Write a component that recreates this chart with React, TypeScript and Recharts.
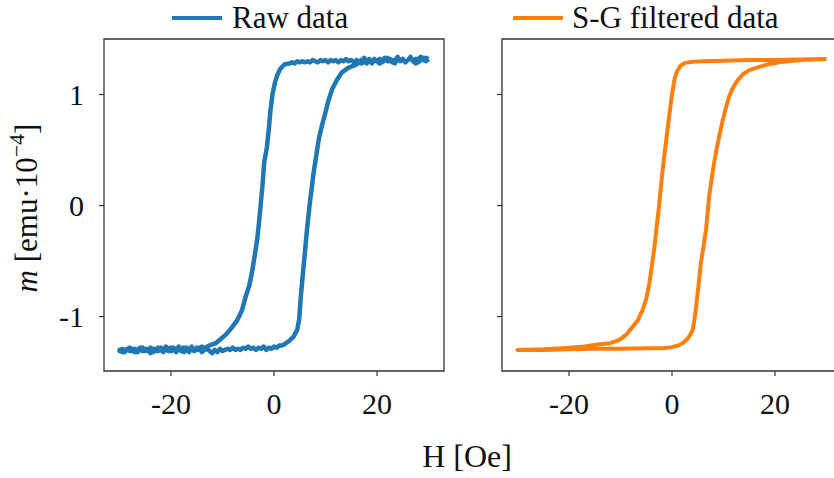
import React from 'react';
import { LineChart, Line, XAxis, YAxis, ReferenceArea } from 'recharts';

const FONT = '"Liberation Serif", "DejaVu Serif", serif';
const AXIS = '#333';

// --- DATA ---
// raw measurement, descending branch (+30 -> -30 Oe)
const RAW_DOWN_H = [
  30, 29.5, 29, 28.5, 28, 27.5, 27, 26.5, 26, 25.5, 25, 24.5, 24, 23.5, 23, 22.5, 22, 21.5, 21, 20.5,
  20, 19.5, 19, 18.5, 18, 17.5, 17, 16.5, 16, 15.5, 15, 14.5, 14, 13.5, 13, 12.5, 12, 11.5, 11, 10.5,
  10, 9.5, 9, 8.5, 8, 7.5, 7, 6.5, 6, 5.5, 5, 4.5, 4, 3.5, 3,
  2, 1.2, 0.6, 0.2, -0.3, -0.7, -1.0, -1.4, -1.9, -2.2, -2.6, -2.9, -3.2, -3.7, -4.2, -4.8, -5.5, -6.2,
  -7.1, -8.2, -9.3, -10.3, -11.3, -12.5,
  -13, -13.5, -14, -14.5, -15, -15.5, -16, -16.5, -17, -17.5, -18, -18.5, -19, -19.5, -20, -20.5, -21,
  -21.5, -22, -22.5, -23, -23.5, -24, -24.5, -25, -25.5, -26, -26.5, -27, -27.5, -28, -28.5, -29, -29.5, -30,
];
const RAW_DOWN_M = [
  1.32, 1.30, 1.33, 1.31, 1.29, 1.32, 1.30, 1.34, 1.31, 1.29, 1.32, 1.30, 1.33, 1.28, 1.31, 1.30, 1.33, 1.31, 1.29, 1.32,
  1.30, 1.31, 1.28, 1.32, 1.30, 1.33, 1.31, 1.30, 1.31, 1.29, 1.31, 1.30, 1.32, 1.30, 1.31, 1.29, 1.31, 1.30, 1.31, 1.29,
  1.31, 1.30, 1.31, 1.29, 1.30, 1.31, 1.29, 1.30, 1.29, 1.30, 1.29, 1.30, 1.28, 1.29, 1.28,
  1.27, 1.23, 1.17, 1.11, 1.00, 0.85, 0.69, 0.52, 0.39, 0.20, 0.00, -0.15, -0.28, -0.44, -0.58, -0.72, -0.82, -0.94,
  -1.03, -1.10, -1.16, -1.20, -1.24, -1.26,
  -1.27, -1.29, -1.27, -1.30, -1.28, -1.31, -1.27, -1.30, -1.28, -1.32, -1.29, -1.27, -1.30, -1.28, -1.31, -1.29, -1.27,
  -1.30, -1.28, -1.31, -1.29, -1.32, -1.28, -1.30, -1.29, -1.31, -1.28, -1.30, -1.32, -1.29, -1.31, -1.29, -1.30, -1.32, -1.30,
];
// raw measurement, ascending branch (-30 -> +30 Oe)
const RAW_UP_H = [
  -30, -29.5, -29, -28.5, -28, -27.5, -27, -26.5, -26, -25.5, -25, -24.5, -24, -23.5, -23, -22.5, -22, -21.5, -21, -20.5,
  -20, -19.5, -19, -18.5, -18, -17.5, -17, -16.5, -16, -15.5, -15, -14.5, -14, -13.5, -13, -12.5, -12, -11.5, -11, -10.5,
  -10, -9.5, -9, -8.5, -8, -7.5, -7, -6.5, -6, -5.5, -5, -4.5, -4, -3.5, -3, -2.5, -2, -1.5, -1, -0.5,
  0, 0.5, 1, 1.5, 2, 2.9, 3.8, 4.5, 4.9, 5.2, 5.5, 5.8, 6.1, 6.4, 6.9, 7.3, 7.7, 8.2, 8.7, 9.3, 10.0,
  10.6, 11.3, 12.2, 13.2, 14.4, 15.5,
  16, 16.5, 17, 17.5, 18, 18.5, 19, 19.5, 20, 20.5, 21, 21.5, 22, 22.5, 23, 23.5, 24, 24.5, 25, 25.5,
  26, 26.5, 27, 27.5, 28, 28.5, 29, 29.5, 30,
];
const RAW_UP_M = [
  -1.31, -1.29, -1.32, -1.30, -1.28, -1.31, -1.29, -1.32, -1.30, -1.28, -1.31, -1.30, -1.33, -1.29, -1.31, -1.28, -1.30, -1.32, -1.29, -1.31,
  -1.28, -1.30, -1.32, -1.29, -1.31, -1.28, -1.30, -1.32, -1.29, -1.31, -1.30, -1.28, -1.32, -1.30, -1.29, -1.31, -1.33, -1.30, -1.32, -1.29,
  -1.31, -1.30, -1.29, -1.30, -1.28, -1.30, -1.29, -1.30, -1.28, -1.29, -1.27, -1.29, -1.28, -1.30, -1.28, -1.29, -1.27, -1.30, -1.28, -1.29,
  -1.27, -1.28, -1.26, -1.26, -1.25, -1.22, -1.18, -1.12, -1.02, -0.82, -0.67, -0.52, -0.37, -0.22, 0.00, 0.15, 0.30, 0.45, 0.60, 0.72, 0.84,
  0.95, 1.05, 1.13, 1.20, 1.24, 1.26,
  1.27, 1.29, 1.28, 1.30, 1.28, 1.31, 1.29, 1.32, 1.30, 1.28, 1.31, 1.33, 1.30, 1.32, 1.29, 1.31, 1.34, 1.30, 1.32, 1.29,
  1.31, 1.33, 1.30, 1.28, 1.32, 1.34, 1.31, 1.33, 1.32,
];

// Savitzky-Golay filtered, descending branch
const SG_DOWN_H = [30, 25, 20, 15, 10, 6, 4, 2.5, 1.7, 1.0, 0.5, 0.2, -0.1, -0.5, -0.85, -1.3, -1.8, -2.5, -3.0, -3.4, -3.9, -4.4, -5.0, -5.7, -6.6, -7.6, -8.8, -10.2, -12, -14.1, -17, -21.2, -25, -30];
const SG_DOWN_M = [1.32, 1.315, 1.31, 1.31, 1.305, 1.30, 1.295, 1.285, 1.26, 1.21, 1.14, 1.06, 0.97, 0.82, 0.69, 0.52, 0.33, 0.00, -0.20, -0.37, -0.54, -0.70, -0.84, -0.94, -1.03, -1.09, -1.16, -1.21, -1.24, -1.25, -1.27, -1.285, -1.295, -1.30];
// Savitzky-Golay filtered, ascending branch
const SG_UP_H = [-30, -25, -20, -15, -10, -5, -1.8, 0, 1.2, 2.05, 3.0, 3.6, 4.0, 4.3, 4.6, 5.1, 5.6, 6.1, 6.6, 7.2, 7.7, 8.2, 8.7, 9.2, 9.8, 10.4, 11.0, 11.7, 12.6, 13.7, 15, 16.3, 18.5, 20.8, 25, 30];
const SG_UP_M = [-1.30, -1.30, -1.295, -1.29, -1.29, -1.285, -1.285, -1.275, -1.26, -1.24, -1.20, -1.16, -1.12, -1.05, -0.94, -0.74, -0.52, -0.37, -0.22, 0.08, 0.24, 0.39, 0.52, 0.63, 0.76, 0.87, 0.97, 1.05, 1.12, 1.18, 1.22, 1.24, 1.27, 1.29, 1.31, 1.32];

const H_TICKS = [-20, 0, 20];
const M_TICKS = [-1, 0, 1];
const H_DOMAIN: [number, number] = [-33, 33];
const M_DOMAIN: [number, number] = [-1.49, 1.5];

const toLoop = (dh: number[], dm: number[], uh: number[], um: number[]) => [
  ...dh.map((h, i) => ({ h, m: dm[i] })),
  ...uh.map((h, i) => ({ h, m: um[i] })),
];

const RAW_LOOP = toLoop(RAW_DOWN_H, RAW_DOWN_M, RAW_UP_H, RAW_UP_M);
const SG_LOOP = toLoop(SG_DOWN_H, SG_DOWN_M, SG_UP_H, SG_UP_M);

const tickStyle = { fontSize: 30, fill: '#111', fontFamily: FONT };

type PanelProps = {
  data: { h: number; m: number }[];
  name: string;
  color: string;
  strokeWidth: number;
  showYLabels: boolean;
  yAxisWidth: number;
};

const Panel: React.FC<PanelProps> = ({ data, name, color, strokeWidth, showYLabels, yAxisWidth }) => (
  <LineChart
    width={460}
    height={478}
    data={data}
    margin={{ top: 39, right: 460 - yAxisWidth - 340, left: 0, bottom: 0 }}
  >
    <XAxis
      dataKey="h"
      type="number"
      domain={H_DOMAIN}
      ticks={H_TICKS}
      allowDataOverflow
      axisLine={false}
      tickLine={{ stroke: AXIS, strokeWidth: 1.2 }}
      tickSize={5}
      tickMargin={17}
      height={107}
      tick={tickStyle}
    />
    <YAxis
      dataKey="m"
      type="number"
      domain={M_DOMAIN}
      ticks={M_TICKS}
      allowDataOverflow
      axisLine={false}
      tickLine={{ stroke: AXIS, strokeWidth: 1.2 }}
      tickSize={5}
      tickMargin={15}
      width={yAxisWidth}
      tick={tickStyle}
      tickFormatter={(v: number) => (showYLabels ? String(v) : '')}
    />
    <ReferenceArea
      x1={H_DOMAIN[0]}
      x2={H_DOMAIN[1]}
      y1={M_DOMAIN[0]}
      y2={M_DOMAIN[1]}
      fill="none"
      stroke={AXIS}
      strokeWidth={1.3}
      fillOpacity={0}
    />
    <Line
      dataKey="m"
      name={name}
      stroke={color}
      strokeWidth={strokeWidth}
      strokeLinejoin="round"
      dot={false}
      isAnimationActive={false}
    />
  </LineChart>
);

export default function App() {
  return (
    <div style={{ position: 'absolute', left: 0, top: 0, width: 834, height: 478, overflow: 'hidden', background: '#fff', fontFamily: FONT }}>
      <div style={{ position: 'absolute', left: 0, top: 0 }}>
        <Panel data={RAW_LOOP} name="Raw data" color="#1f77b4" strokeWidth={4.5} showYLabels yAxisWidth={104} />
      </div>
      <div style={{ position: 'absolute', left: 400, top: 0 }}>
        <Panel data={SG_LOOP} name="S-G filtered data" color="#ff7f0e" strokeWidth={4} showYLabels={false} yAxisWidth={102} />
      </div>
      <svg width={834} height={478} style={{ position: 'absolute', left: 0, top: 0, pointerEvents: 'none' }}>
        {/* legends */}
        <line x1={172} y1={18} x2={222} y2={18} stroke="#1f77b4" strokeWidth={4} />
        <text x={232} y={28} fontSize={31} fontFamily={FONT} fill="#111">Raw data</text>
        <line x1={513} y1={18} x2={563} y2={18} stroke="#ff7f0e" strokeWidth={4} />
        <text x={572} y={28} fontSize={31} fontFamily={FONT} fill="#111">S-G filtered data</text>
        {/* axis titles */}
        <text x={37} y={208} transform="rotate(-90 37 208)" textAnchor="middle" fontSize={31} fontFamily={FONT} fill="#111">
          <tspan fontStyle="italic">m</tspan>
          <tspan> [emu·10</tspan>
          <tspan fontSize={22} dy={-13}>−4</tspan>
          <tspan dy={13}>]</tspan>
        </text>
        <text x={467} y={467} textAnchor="middle" fontSize={32} fontFamily={FONT} fill="#111">H [Oe]</text>
      </svg>
    </div>
  );
}
